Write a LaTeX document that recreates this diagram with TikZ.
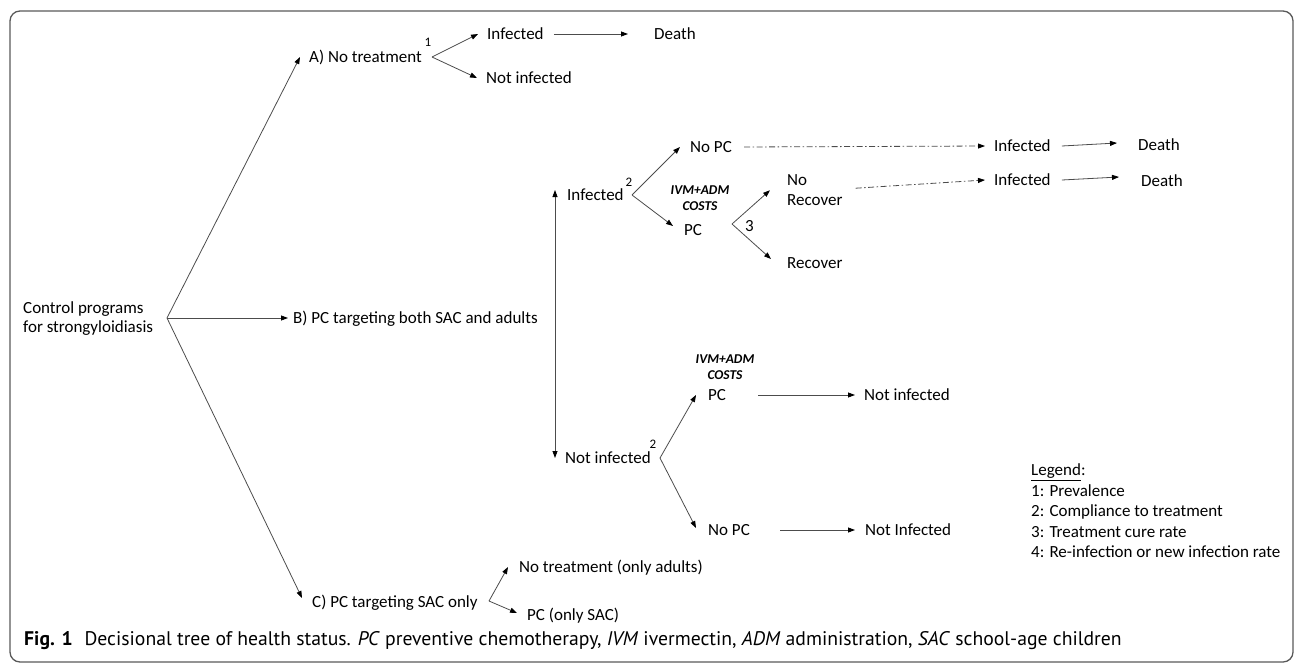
\documentclass[tikz,border=0pt]{standalone}
\usepackage{fontspec}
\setmainfont{Carlito}
\newfontfamily\capfont{PT Sans}
\usetikzlibrary{arrows.meta}
\definecolor{linegrey}{gray}{0.3}
\definecolor{framegrey}{gray}{0.35}
\tikzset{
	txt/.style={anchor=west, inner sep=0pt, text height=11pt, text depth=0pt},
	txtml/.style={anchor=north west, inner sep=0pt, align=left},
	costs/.style={anchor=north, inner sep=0pt, align=center, font=\fontsize{13.5}{16}\selectfont\bfseries\itshape},
	num/.style={inner sep=0pt, font=\fontsize{13}{13}\selectfont},
	arr/.style={draw=linegrey, line width=0.8pt, -{Triangle[length=7pt,width=5pt,color=black]}},
	arrtwo/.style={draw=linegrey, line width=0.8pt, {Triangle[length=7pt,width=5pt,color=black]}-{Triangle[length=7pt,width=5pt,color=black]}},
	brn/.style={draw=linegrey, line width=0.8pt},
	dotarr/.style={arr, dash pattern=on 6pt off 2.5pt on 1.5pt off 2.5pt}
}
\begin{document}
\begin{tikzpicture}[x=1pt, y=-1pt, font=\fontsize{17}{19}\selectfont]
	\useasboundingbox (0,0) rectangle (1295,664);
	\draw[framegrey, line width=1.3pt, rounded corners=10pt] (10,11) rectangle (1293,662);

	\node[txtml] (root) at (23,301.5) {Control programs\\for strongyloidiasis};
	\node[txt] (nA) at (309,57) {A) No treatment};
	\node[txt] (nB) at (293,318) {B) PC targeting both SAC and adults};
	\node[txt] (nC) at (312,602) {C) PC targeting SAC only};
	\coordinate (fR) at (167,318);
	\draw[arr] (fR) -- ([xshift=-9pt]nA.west);
	\draw[arr] (fR) -- ([xshift=-5pt]nB.west);
	\draw[arr] (fR) -- ([xshift=-10pt,yshift=4pt]nC.west);

	\node[num] (one) at (428,42) {1};
	\coordinate (fA) at (432,57);
	\node[txt] (aInf) at (487,34) {Infected};
	\node[txt] (aNot) at (486,78) {Not infected};
	\node[txt] (aDeath) at (654,34) {Death};
	\draw[arr] (fA) -- ([xshift=-9pt]aInf.west);
	\draw[arr] (fA) -- ([xshift=-9pt]aNot.west);
	\draw[arr] ([xshift=10pt]aInf.east) -- ([xshift=-26pt]aDeath.west);

	\node[txt] (bInf) at (567,195) {Infected};
	\node[txt] (bNot) at (565,458) {Not infected};
	\draw[arrtwo] ([xshift=-12pt,yshift=5pt]bInf.west) -- ([xshift=-10pt]bNot.west);

	\node[num] (two) at (629,182) {2};
	\coordinate (fB) at (632,195);
	\node[txt] (bNoPC) at (690,147) {No PC};
	\node[txt] (bPC) at (684,230) {PC};
	\node[costs] (bCost) at (700,185.5) {IVM+ADM\\COSTS};
	\draw[arr] (fB) -- ([xshift=-10pt]bNoPC.west);
	\draw[arr] (fB) -- ([xshift=-11pt,yshift=4pt]bPC.west);

	\node[txt] (three) at (745,226) {3};
	\coordinate (fP) at (732,224);
	\node[txtml, font=\fontsize{17}{20}\selectfont] (bNoRec) at (787,174.5) {No\\Recover};
	\node[txt] (bRec) at (787,263) {Recover};
	\draw[arr] (fP) -- ([xshift=-17pt]bNoRec.west);
	\draw[arr] (fP) -- ([xshift=-16pt,yshift=4pt]bRec.west);

	\node[txt] (bInfA) at (994,146) {Infected};
	\node[txt] (bDeathA) at (1138,145) {Death};
	\node[txt] (bInfB) at (994,180) {Infected};
	\node[txt] (bDeathB) at (1141,181) {Death};
	\draw[dotarr] ([xshift=12pt]bNoPC.east) -- ([xshift=-9pt]bInfA.west);
	\draw[dotarr] ([xshift=13pt,yshift=2pt]bNoRec.east) -- ([xshift=-9pt]bInfB.west);
	\draw[arr] ([xshift=11pt]bInfA.east) -- ([xshift=-21pt,yshift=2pt]bDeathA.west);
	\draw[arr] ([xshift=11pt]bInfB.east) -- ([xshift=-22pt,yshift=4pt]bDeathB.west);

	\node[num] (twob) at (653,444) {2};
	\coordinate (fN) at (660,458);
	\node[costs] (nCost) at (725,354.5) {IVM+ADM\\COSTS};
	\node[txt] (nPC) at (708,395) {PC};
	\node[txt] (nNoPC) at (708,530) {No PC};
	\node[txt] (nNotA) at (864,395) {Not infected};
	\node[txt] (nNotB) at (865,530) {Not Infected};
	\draw[arr] (fN) -- ([xshift=-12pt]nPC.west);
	\draw[arr] (fN) -- ([xshift=-12pt,yshift=2pt]nNoPC.west);
	\draw[arr] ([xshift=32pt]nPC.east) -- ([xshift=-9pt]nNotA.west);
	\draw[arr] ([xshift=30pt]nNoPC.east) -- ([xshift=-10pt]nNotB.west);

	\coordinate (fC) at (489,601);
	\node[txt] (cNo) at (519,567) {No treatment (only adults)};
	\node[txt] (cPC) at (527,615) {PC (only SAC)};
	\draw[arr] (fC) -- ([xshift=-11pt]cNo.west);
	\draw[arr] (fC) -- ([xshift=-10pt,yshift=2pt]cPC.west);

	\node[txtml, font=\fontsize{17}{20.5}\selectfont] (legend) at (1031,463.5) {\underline{Legend}:\\1: Prevalence\\2: Compliance to treatment\\3: Treatment cure rate\\4: Re-infection or new infection rate};

	\node[txt, font=\capfont\fontsize{19.7}{21}\selectfont] (caption) at (24,640) {\textbf{Fig. 1}\hspace{0.6em}Decisional tree of health status. \textit{PC} preventive chemotherapy, \textit{IVM} ivermectin, \textit{ADM} administration, \textit{SAC} school-age children};
\end{tikzpicture}
\end{document}
